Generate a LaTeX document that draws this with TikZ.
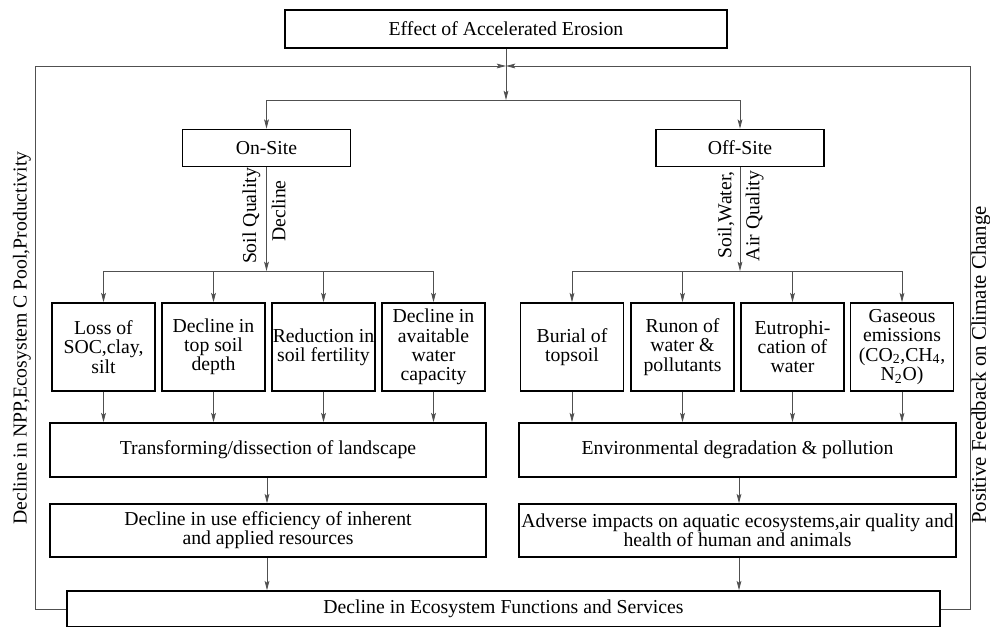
\documentclass[tikz,border=0pt]{standalone}
\usepackage{xcolor}
\usepackage{fontspec}
\setmainfont{Liberation Serif}
\usepackage{tikz}
\usetikzlibrary{positioning,arrows.meta}
\definecolor{grislinea}{RGB}{80,80,80}
\tikzset{
  caja/.style={draw=black, line width=1.2pt, align=center, inner sep=0pt},
  linea/.style={draw=grislinea, line width=0.6pt},
  flecha/.style={linea, -{Stealth[length=7pt,width=3.6pt,inset=1.5pt]}},
  rotulo/.style={rotate=90, inner sep=1pt}
}

\begin{document}
\begin{tikzpicture}[x=0.75pt, y=-0.75pt, font=\fontsize{14.8}{14.4}\selectfont]
  \useasboundingbox (0,0) rectangle (990,626);
  % cabecera y reparto
  \node[caja, minimum width=331.5pt, minimum height=28.5pt] (erosion) at (506,29) {Effect of Accelerated Erosion};
  \coordinate (nudo) at (506,66);
  \coordinate (reparto) at (506,100);
  \node[caja, minimum width=126pt, minimum height=27.75pt] (onsite) at (266.5,148) {On-Site};
  \node[caja, minimum width=126pt, minimum height=27.75pt] (offsite) at (740,148) {Off-Site};
  \draw[flecha] (erosion.south) -- (reparto);
  \draw[linea] (onsite.north |- reparto) -- (offsite.north |- reparto);
  \draw[flecha] (onsite.north |- reparto) -- (onsite.north);
  \draw[flecha] (offsite.north |- reparto) -- (offsite.north);

  % efectos en el sitio
  \foreach \n/\cx/\txt in {l1/103.5/{Loss of\\SOC,clay,\\silt},
      l2/213.5/{Decline in\\top soil\\depth},
      l3/323.5/{Reduction in\\soil fertility},
      l4/433.5/{Decline in\\avaitable\\water\\capacity}}
    \node[caja, minimum width=77.25pt, minimum height=66pt] (\n) at (\cx,347) {\txt};
  % efectos fuera del sitio
  \foreach \n/\cx/\txt in {r1/572/{Burial of\\topsoil},
      r2/682.5/{Runon of\\water \&\\pollutants},
      r3/792.5/{Eutrophi-\\cation of\\water},
      r4/902/{Gaseous\\emissions\\(CO\textsubscript{2},CH\textsubscript{4},\\N\textsubscript{2}O)}}
    \node[caja, minimum width=77.25pt, minimum height=66pt] (\n) at (\cx,347) {\txt};

  \coordinate (ramaI) at (266.5,271);
  \coordinate (ramaD) at (740,271);
  \draw[flecha] (onsite.south) -- (ramaI);
  \draw[flecha] (offsite.south) -- (ramaD);
  \node[rotulo, anchor=south] (soilq) at (262,216) {Soil Quality};
  \node[rotulo, anchor=north] (declq) at (270,211) {Decline};
  \node[rotulo, anchor=south] (soilw) at (736,215) {Soil,Water,};
  \node[rotulo, anchor=north] (airq) at (744,216) {Air Quality};
  \draw[linea] (l1.north |- ramaI) -- (l4.north |- ramaI);
  \draw[linea] (r1.north |- ramaD) -- (r4.north |- ramaD);

  % cajas anchas
  \node[caja, minimum width=327pt, minimum height=40.5pt] (paisaje) at (268,450) {Transforming/dissection of landscape};
  \node[caja, minimum width=327.75pt, minimum height=40.5pt] (ambiente) at (737.5,450) {Environmental degradation \& pollution};
  \node[caja, minimum width=327pt, minimum height=39.75pt] (recursos) at (268,530.5) {Decline in use efficiency of inherent\\and applied resources};
  \node[caja, minimum width=327.75pt, minimum height=39.75pt] (impactos) at (737.5,530.5) {Adverse impacts on aquatic ecosystems,air quality and\\health of human and animals};
  \node[caja, minimum width=654.75pt, minimum height=27pt] (servicios) at (503.5,609) {Decline in Ecosystem Functions and Services};

  \foreach \i in {1,...,4} {
    \draw[flecha] (l\i.north |- ramaI) -- (l\i.north);
    \draw[flecha] (r\i.north |- ramaD) -- (r\i.north);
    \draw[flecha] (l\i.south) -- (l\i.south |- paisaje.north);
    \draw[flecha] (r\i.south) -- (r\i.south |- ambiente.north);
  }
  \draw[flecha] (paisaje.south -| 267,0) -- (recursos.north -| 267,0);
  \draw[flecha] (ambiente.south -| 739,0) -- (impactos.north -| 739,0);
  \draw[flecha] (recursos.south -| 267,0) -- (servicios.north -| 267,0);
  \draw[flecha] (impactos.south -| 739,0) -- (servicios.north -| 739,0);

  % retroalimentacion
  \draw[flecha] (servicios.west) -- ++(-31,0) |- (nudo);
  \draw[flecha] (servicios.east) -- ++(30,0) |- (nudo);
  \node[rotulo] (npp) at (22,338) {Decline in NPP,Ecosystem C Pool,Productivity};
  \node[rotulo, font=\fontsize{15.6}{16}\selectfont] (clima) at (981,365) {Positive Feedback on Climate Change};
\end{tikzpicture}
\end{document}
